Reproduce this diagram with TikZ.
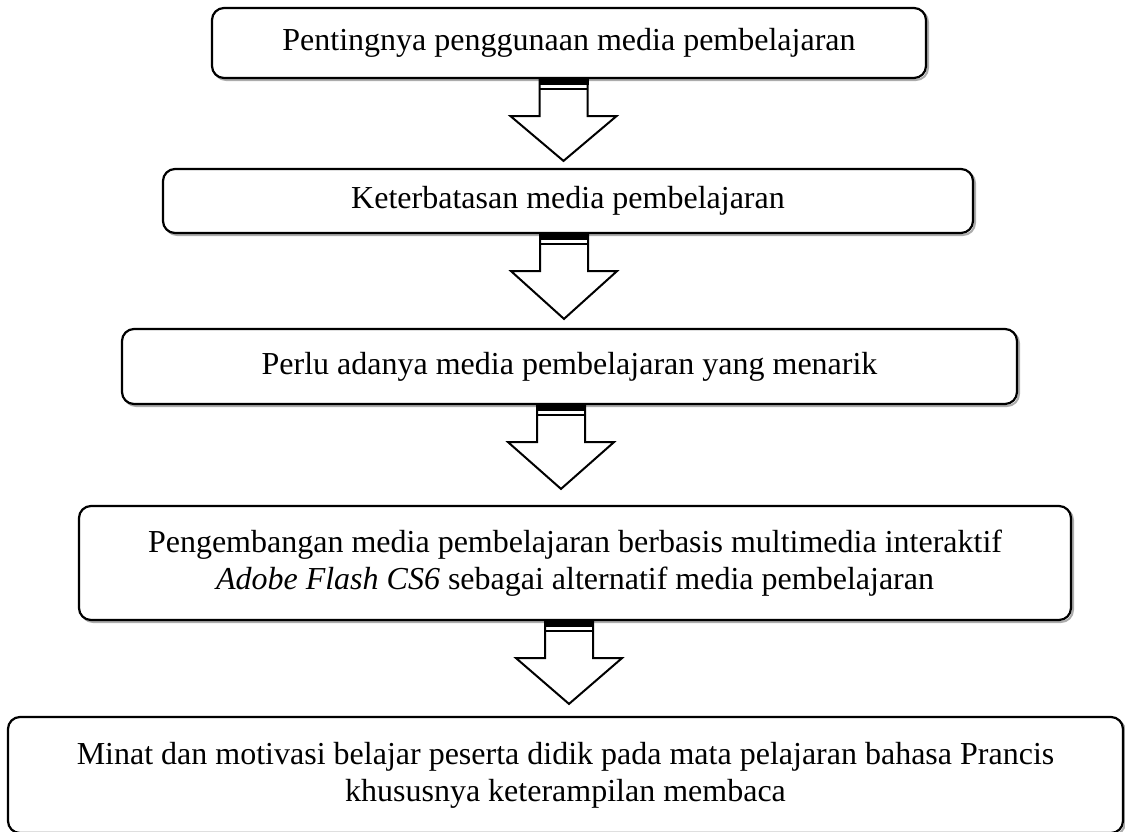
\documentclass[tikz,border=0pt]{standalone}
\usepackage{fontspec}
\setmainfont{Liberation Serif}
\usetikzlibrary{calc,shadows}
\tikzset{
  flowbox/.style={draw=black, line width=2.2pt, rounded corners=12pt, fill=white,
    align=center, inner sep=0pt, font=\fontsize{32}{37}\selectfont,
    general shadow={shadow xshift=2pt, shadow yshift=-2pt, draw=gray!65, fill=none, line width=2pt}},
  arrowline/.style={draw=black, line width=2pt, fill=white, line join=miter},
}
\newcommand{\blockarrow}[4]{% from, to, center x (pt), gap above target
  \path let \p1=(#1.south), \p2=(#2.north) in
    [arrowline] ({#3pt-24pt},\y1) -- ({#3pt-24pt},{\y1-37pt}) -- ({#3pt-53pt},{\y1-37pt})
      -- ({#3pt},{\y2+#4pt}) -- ({#3pt+53pt},{\y1-37pt}) -- ({#3pt+24pt},{\y1-37pt})
      -- ({#3pt+24pt},\y1) -- cycle;
  \path let \p1=(#1.south) in
    [fill=black] ({#3pt-25pt},{\y1+1pt}) rectangle ({#3pt+25pt},{\y1-6pt});
  \path let \p1=(#1.south) in
    [draw=black, line width=2pt] ({#3pt-24pt},{\y1-10pt}) -- ({#3pt+24pt},{\y1-10pt});
}
\begin{document}
\begin{tikzpicture}[x=1pt,y=-1pt]
\useasboundingbox (0,0) rectangle (1125,831);
\node[flowbox, minimum width=714pt, minimum height=70pt] (b1) at (569,43) {Pentingnya penggunaan media pembelajaran};
\node[flowbox, minimum width=810pt, minimum height=64pt] (b2) at (568,201) {Keterbatasan media pembelajaran};
\node[flowbox, minimum width=895pt, minimum height=75pt] (b3) at (569.5,366.5) {Perlu adanya media pembelajaran yang menarik};
\node[flowbox, minimum width=992pt, minimum height=114pt] (b4) at (575,563) {Pengembangan media pembelajaran berbasis multimedia interaktif\\ \textit{Adobe Flash CS6} sebagai alternatif media pembelajaran};
\node[flowbox, minimum width=1115pt, minimum height=116pt] (b5) at (565.5,775) {Minat dan motivasi belajar peserta didik pada mata pelajaran bahasa Prancis\\ khususnya keterampilan membaca};
\blockarrow{b1}{b2}{563.5}{7}
\blockarrow{b2}{b3}{564}{9}
\blockarrow{b3}{b4}{561}{16}
\blockarrow{b4}{b5}{569}{12}
\end{tikzpicture}
\end{document}
